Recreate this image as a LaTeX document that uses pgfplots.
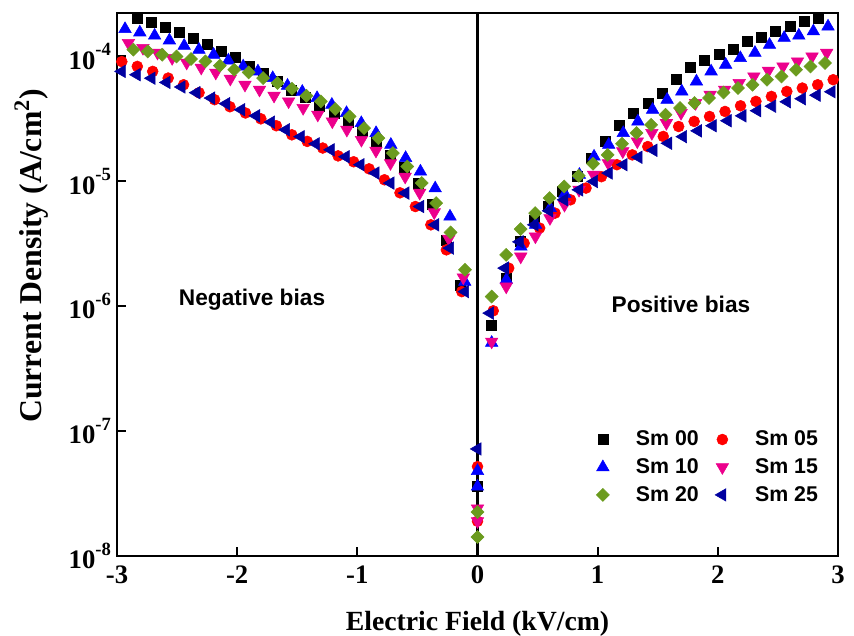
\documentclass[border=0pt]{standalone}
\usepackage{fontspec}
\setmainfont{Liberation Serif}
\setsansfont{Liberation Sans}
\usepackage{pgfplots}
\pgfplotsset{compat=1.18}
\definecolor{cgreen}{RGB}{107,155,30}
\definecolor{cnavy}{RGB}{0,0,160}
\newcommand{\tl}[1]{\textbf{10}\raisebox{0.5em}{\fontsize{14}{14}\selectfont\bfseries #1}}
\begin{document}
\begin{tikzpicture}
\begin{axis}[
  at={(0,0)}, anchor=south west,
  scale only axis, width=540.75pt, height=407.25pt,
  xmin=-3, xmax=3, ymin=1e-8, ymax=2.23e-4,
  ymode=log,
  axis line style={line width=1.8pt},
  tick align=inside, tick pos=left,
  major tick length=6.75pt,
  every tick/.style={black, line width=1.6pt},
  xminorticks=false, yminorticks=false,
  xtick={-3,-2,-1,0,1,2,3},
  xticklabels={-3,-2,-1,0,1,2,3},
  ytick={1e-8,1e-7,1e-6,1e-5,1e-4},
  yticklabels={\tl{-8},\tl{-7},\tl{-6},\tl{-5},\tl{-4}},
  ticklabel style={font=\fontsize{20}{24}\selectfont\bfseries},
  xticklabel style={yshift=-4pt},
  yticklabel style={xshift=-1pt},
  xlabel={Electric Field (kV/cm)},
  ylabel={Current Density (A/cm\textsuperscript{2})},
  xlabel style={font=\fontsize{20.8}{24}\selectfont\bfseries, at={(axis description cs:0.5,-0.125)}, anchor=center},
  ylabel style={font=\fontsize{23.8}{27}\selectfont\bfseries, at={(axis description cs:-0.119,0.5525)}, anchor=center},
  legend columns=2,
  legend image code/.code={\draw[mark repeat=2,mark phase=2,#1] plot coordinates {(0pt,0pt) (6pt,0pt) (12pt,0pt)};},
  legend style={draw=none, fill=none, at={(rel axis cs:0.6645,0.2355)}, anchor=north west, inner sep=0pt,
    font=\sffamily\bfseries\fontsize{16}{19}\selectfont,
    /tikz/row sep=4.1pt,
    /tikz/every odd column/.append style={column sep=17.9pt},
    /tikz/every even column/.append style={column sep=10.3pt}},
]
\addplot[only marks, mark=square*, mark size=3.75pt, color=black] coordinates {
(-2.835,2.03e-4) (-2.718,1.88e-4) (-2.601,1.72e-4) (-2.484,1.55e-4) (-2.366,1.40e-4) (-2.250,1.25e-4) (-2.132,1.10e-4) (-2.015,9.8e-5) (-1.898,8.4e-5) (-1.781,7.3e-5) (-1.664,6.3e-5) (-1.547,5.4e-5) (-1.430,4.7e-5) (-1.313,4.0e-5) (-1.196,3.5e-5) (-1.078,2.95e-5) (-0.961,2.5e-5) (-0.844,2.04e-5) (-0.727,1.63e-5) (-0.610,1.29e-5) (-0.493,9.7e-6) (-0.376,6.5e-6) (-0.259,3.4e-6) (-0.142,1.48e-6) (0,3.6e-8) (0.118,7.1e-7) (0.236,1.69e-6) (0.354,3.3e-6) (0.473,4.9e-6) (0.591,6.3e-6) (0.709,8.3e-6) (0.827,1.09e-5) (0.945,1.54e-5) (1.064,2.09e-5) (1.182,2.79e-5) (1.300,3.5e-5) (1.418,4.2e-5) (1.536,5.1e-5) (1.655,6.6e-5) (1.773,8.2e-5) (1.891,9.4e-5) (2.009,1.05e-4) (2.127,1.15e-4) (2.245,1.32e-4) (2.364,1.43e-4) (2.482,1.59e-4) (2.600,1.74e-4) (2.718,1.91e-4) (2.836,2.03e-4)
};
\addlegendentry{Sm 00}
\addplot[only marks, mark=*, mark size=4.1pt, color=red] coordinates {
(-2.960,9.1e-5) (-2.831,8.33e-5) (-2.703,7.60e-5) (-2.574,6.72e-5) (-2.446,5.94e-5) (-2.317,5.13e-5) (-2.188,4.51e-5) (-2.060,3.96e-5) (-1.931,3.53e-5) (-1.803,3.17e-5) (-1.674,2.79e-5) (-1.545,2.36e-5) (-1.417,2.09e-5) (-1.288,1.85e-5) (-1.160,1.60e-5) (-1.031,1.436e-5) (-0.902,1.26e-5) (-0.774,1.03e-5) (-0.645,8.1e-6) (-0.517,6.29e-6) (-0.388,4.49e-6) (-0.259,2.83e-6) (-0.131,1.31e-6) (0,5.2e-8) (0,1.9e-8) (0.131,9.2e-7) (0.260,2.02e-6) (0.388,3.20e-6) (0.517,4.23e-6) (0.645,5.57e-6) (0.774,7.12e-6) (0.903,8.84e-6) (1.031,1.09e-5) (1.160,1.36e-5) (1.288,1.63e-5) (1.417,1.90e-5) (1.546,2.29e-5) (1.674,2.75e-5) (1.803,3.02e-5) (1.931,3.31e-5) (2.060,3.63e-5) (2.189,4.03e-5) (2.317,4.37e-5) (2.446,4.79e-5) (2.574,5.25e-5) (2.703,5.59e-5) (2.831,5.94e-5) (2.960,6.52e-5)
};
\addlegendentry{Sm 05}
\addplot[only marks, mark=triangle*, mark size=5.4pt, color=blue] coordinates {
(-2.933,1.66e-4) (-2.810,1.56e-4) (-2.687,1.47e-4) (-2.564,1.346e-4) (-2.441,1.22e-4) (-2.318,1.134e-4) (-2.196,1.034e-4) (-2.073,9.3e-5) (-1.950,8.33e-5) (-1.827,7.6e-5) (-1.704,6.72e-5) (-1.581,5.84e-5) (-1.458,5.22e-5) (-1.335,4.65e-5) (-1.212,4.11e-5) (-1.090,3.53e-5) (-0.967,2.93e-5) (-0.844,2.44e-5) (-0.721,1.965e-5) (-0.598,1.54e-5) (-0.475,1.20e-5) (-0.352,8.8e-6) (-0.229,5.23e-6) (-0.106,1.57e-6) (0,4.8e-8) (0,3.6e-8) (0.118,5.1e-7) (0.240,1.63e-6) (0.361,3.01e-6) (0.483,4.49e-6) (0.605,6.11e-6) (0.727,7.96e-6) (0.848,1.13e-5) (0.970,1.58e-5) (1.092,1.965e-5) (1.213,2.44e-5) (1.335,3.02e-5) (1.457,3.75e-5) (1.578,4.51e-5) (1.700,5.25e-5) (1.822,6.31e-5) (1.944,7.60e-5) (2.065,8.60e-5) (2.187,9.72e-5) (2.309,1.07e-4) (2.430,1.24e-4) (2.552,1.41e-4) (2.674,1.47e-4) (2.795,1.59e-4) (2.917,1.74e-4)
};
\addlegendentry{Sm 10}
\addplot[only marks, mark=triangle*, mark size=5.4pt, mark options={rotate=180}, color=magenta] coordinates {
(-2.905,1.283e-4) (-2.784,1.17e-4) (-2.663,1.072e-4) (-2.541,9.72e-5) (-2.420,8.92e-5) (-2.299,8.13e-5) (-2.178,7.42e-5) (-2.057,6.64e-5) (-1.935,5.94e-5) (-1.814,5.42e-5) (-1.693,4.85e-5) (-1.572,4.37e-5) (-1.451,3.87e-5) (-1.329,3.42e-5) (-1.208,3.02e-5) (-1.087,2.59e-5) (-0.966,2.15e-5) (-0.845,1.76e-5) (-0.724,1.40e-5) (-0.602,1.09e-5) (-0.481,8.1e-6) (-0.360,5.65e-6) (-0.239,3.47e-6) (-0.118,1.70e-6) (0,2.4e-8) (0,1.9e-8) (0.118,5.21e-7) (0.239,1.438e-6) (0.360,2.50e-6) (0.482,3.62e-6) (0.603,5.08e-6) (0.724,6.49e-6) (0.845,8.56e-6) (0.966,1.13e-5) (1.088,1.40e-5) (1.209,1.74e-5) (1.330,2.09e-5) (1.451,2.44e-5) (1.572,2.93e-5) (1.694,3.53e-5) (1.815,4.24e-5) (1.936,4.94e-5) (2.057,5.42e-5) (2.178,6.13e-5) (2.300,6.93e-5) (2.421,7.70e-5) (2.542,8.33e-5) (2.663,9.14e-5) (2.784,1.00e-4) (2.906,1.07e-4)
};
\addlegendentry{Sm 15}
\addplot[only marks, mark=square*, mark size=3.45pt, mark options={rotate=45}, color=cgreen] coordinates {
(-2.864,1.134e-4) (-2.744,1.099e-4) (-2.624,1.034e-4) (-2.504,1.00e-4) (-2.384,9.55e-5) (-2.264,9.14e-5) (-2.144,8.44e-5) (-2.024,7.84e-5) (-1.904,7.46e-5) (-1.784,6.72e-5) (-1.664,6.13e-5) (-1.544,5.52e-5) (-1.424,4.85e-5) (-1.304,4.37e-5) (-1.184,3.80e-5) (-1.064,3.31e-5) (-0.944,2.67e-5) (-0.824,2.22e-5) (-0.704,1.686e-5) (-0.584,1.316e-5) (-0.464,9.69e-6) (-0.344,6.70e-6) (-0.224,3.90e-6) (-0.104,1.96e-6) (0,2.25e-8) (0,1.42e-8) (0.118,1.196e-6) (0.239,2.58e-6) (0.359,4.15e-6) (0.480,5.57e-6) (0.600,7.35e-6) (0.721,9.10e-6) (0.842,1.109e-5) (0.962,1.384e-5) (1.083,1.63e-5) (1.203,2.00e-5) (1.324,2.44e-5) (1.445,2.84e-5) (1.565,3.42e-5) (1.686,3.87e-5) (1.806,4.24e-5) (1.927,4.65e-5) (2.048,5.15e-5) (2.168,5.59e-5) (2.289,5.94e-5) (2.409,6.52e-5) (2.530,6.93e-5) (2.651,7.84e-5) (2.771,8.33e-5) (2.892,8.87e-5)
};
\addlegendentry{Sm 20}
\addplot[only marks, mark=triangle*, mark size=5.4pt, mark options={rotate=90}, color=cnavy] coordinates {
(-2.960,7.60e-5) (-2.836,7.15e-5) (-2.712,6.70e-5) (-2.587,6.20e-5) (-2.463,5.70e-5) (-2.339,5.13e-5) (-2.215,4.65e-5) (-2.091,4.19e-5) (-1.966,3.75e-5) (-1.842,3.35e-5) (-1.718,2.98e-5) (-1.594,2.59e-5) (-1.470,2.28e-5) (-1.345,2.00e-5) (-1.221,1.79e-5) (-1.097,1.575e-5) (-0.973,1.36e-5) (-0.849,1.166e-5) (-0.724,9.69e-6) (-0.600,8.06e-6) (-0.476,6.29e-6) (-0.352,4.49e-6) (-0.228,2.92e-6) (-0.103,1.31e-6) (0,7.2e-8) (0.104,8.81e-7) (0.228,2.02e-6) (0.351,3.28e-6) (0.475,4.49e-6) (0.598,5.81e-6) (0.722,7.12e-6) (0.846,8.56e-6) (0.969,9.98e-6) (1.093,1.166e-5) (1.216,1.36e-5) (1.340,1.56e-5) (1.464,1.775e-5) (1.587,2.02e-5) (1.711,2.28e-5) (1.834,2.54e-5) (1.958,2.79e-5) (2.082,3.06e-5) (2.205,3.35e-5) (2.329,3.68e-5) (2.452,4.00e-5) (2.576,4.34e-5) (2.700,4.59e-5) (2.823,4.90e-5) (2.947,5.22e-5)
};
\addlegendentry{Sm 25}
\addplot[forget plot, black, line width=1.8pt, no marks] coordinates {(0,1e-8) (0,2.23e-4)};
\node[font=\sffamily\bfseries\fontsize{17}{20}\selectfont] at (axis cs:-1.876,1.125e-6) {Negative bias};
\node[font=\sffamily\bfseries\fontsize{17}{20}\selectfont] at (axis cs:1.693,1.026e-6) {Positive bias};
\end{axis}
\pgfresetboundingbox
\path[use as bounding box] (-87.75pt,-60pt) rectangle (552.75pt,417pt);
\end{tikzpicture}
\end{document}
